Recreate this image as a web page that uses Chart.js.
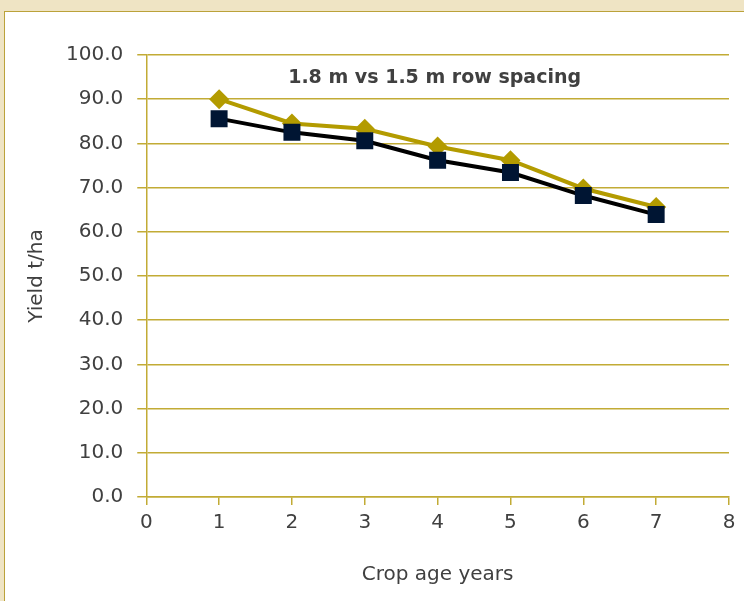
<!DOCTYPE html>
<html>
<head>
<meta charset="utf-8">
<script src="https://cdn.jsdelivr.net/npm/chart.js@4"></script>
<style>
  html, body { margin: 0; padding: 0; }
  body { width: 744px; height: 601px; background: #efe4c4; overflow: hidden; position: relative; }
  .panel { position: absolute; left: 4px; top: 11px; width: 760px; height: 620px; background: #fff; border: 1.5px solid #bba23a; }
  .wrap { position: absolute; left: 0; top: 0; width: 744px; height: 601px; }
</style>
</head>
<body>
<div class="panel"></div>
<div class="wrap"><canvas id="chart"></canvas></div>
<script>
// crop age (years) and yield t/ha for the two row spacings
const cropAge = [1, 2, 3, 4, 5, 6, 7];
const yield18 = [90.0, 84.5, 83.3, 79.3, 76.2, 69.8, 65.6];
const yield15 = [85.6, 82.5, 80.6, 76.2, 73.4, 68.2, 63.9];
const chartTitle = '1.8 m vs 1.5 m row spacing';

const gold = '#b39b00';
const gridGold = '#c2ab35';
const font = 'DejaVu Sans';
const textColor = '#404040';

// title sits inside the plot area
const innerTitle = {
  id: 'innerTitle',
  afterDraw(chart) {
    const { ctx, chartArea } = chart;
    ctx.save();
    ctx.font = 'bold 19px "' + font + '"';
    ctx.fillStyle = textColor;
    ctx.textAlign = 'center';
    ctx.textBaseline = 'middle';
    ctx.fillText(chartTitle, (chartArea.left + chartArea.right) / 2 - 3, chartArea.top + 23);
    ctx.restore();
  }
};

new Chart(document.getElementById('chart'), {
  type: 'line',
  data: {
    datasets: [
      {
        label: '1.5 m',
        data: cropAge.map((x, i) => ({ x, y: yield15[i] })),
        borderColor: '#000',
        borderWidth: 4,
        pointStyle: 'rect',
        pointRadius: 12,
        pointBackgroundColor: '#001533',
        pointBorderColor: '#001533',
        pointBorderWidth: 0,
        order: 0
      },
      {
        label: '1.8 m',
        data: cropAge.map((x, i) => ({ x, y: yield18[i] })),
        borderColor: gold,
        borderWidth: 4,
        pointStyle: 'rectRot',
        pointRadius: 10,
        pointBackgroundColor: gold,
        pointBorderColor: gold,
        pointBorderWidth: 0,
        order: 1
      }
    ]
  },
  options: {
    responsive: true,
    maintainAspectRatio: false,
    animation: false,
    layout: { padding: { left: 25, right: 15, top: 55, bottom: 14 } },
    plugins: {
      legend: { display: false },
      tooltip: { enabled: false }
    },
    scales: {
      x: {
        type: 'linear',
        min: 0,
        max: 8,
        ticks: { stepSize: 1, color: textColor, font: { family: font, size: 20 }, padding: 6 },
        grid: { drawOnChartArea: false, drawTicks: true, tickLength: 8, color: gridGold, lineWidth: 1.5 },
        border: { color: gridGold, width: 1.5 },
        title: { display: true, text: 'Crop age years', color: textColor, font: { family: font, size: 20 }, padding: { top: 22, bottom: 0 } }
      },
      y: {
        min: 0,
        max: 100,
        ticks: { stepSize: 10, color: textColor, font: { family: font, size: 20 }, padding: 14, callback: v => v.toFixed(1) },
        grid: { color: gridGold, lineWidth: 1.5, tickLength: 9 },
        border: { color: gridGold, width: 1.5 },
        title: { display: true, text: 'Yield t/ha', color: textColor, font: { family: font, size: 20 }, padding: { top: 0, bottom: 3 } }
      }
    }
  },
  plugins: [innerTitle]
});
</script>
</body>
</html>
